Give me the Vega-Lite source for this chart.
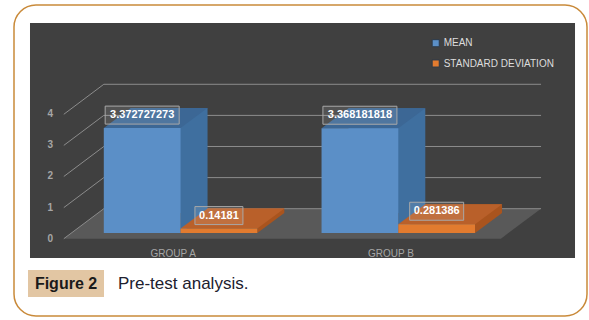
{
  "$schema": "https://vega.github.io/schema/vega-lite/v6.json",
  "autosize": "none",
  "padding": {"left": 14, "top": 5, "right": 2, "bottom": 4},
  "background": "#ffffff",
  "width": 573,
  "height": 311,
  "view": {"stroke": "#c98a3a", "strokeWidth": 1.5, "cornerRadius": 22, "fill": "#ffffff"},
  "config": {"font": "Liberation Sans"},
  "datasets": {
    "bars": [
      {"group": "GROUP A", "series": "MEAN", "value": 3.372727273, "label": "3.372727273"},
      {"group": "GROUP A", "series": "STANDARD DEVIATION", "value": 0.14181, "label": "0.14181"},
      {"group": "GROUP B", "series": "MEAN", "value": 3.368181818, "label": "3.368181818"},
      {"group": "GROUP B", "series": "STANDARD DEVIATION", "value": 0.281386, "label": "0.281386"}
    ],
    "levels": [{"level": 0}, {"level": 1}, {"level": 2}, {"level": 3}, {"level": 4}],
    "caption": [{"fig": "Figure 2", "text": "Pre-test analysis."}]
  },
  "data": {"name": "bars"},
  "resolve": {"scale": {"xOffset": "independent"}},
  "layer": [
    {
      "data": {"name": "caption"},
      "mark": {"type": "rect", "color": "#404040"},
      "encoding": {
        "x": {"datum": "GROUP A", "type": "nominal", "bandPosition": -0.4808, "axis": null},
        "x2": {"datum": "GROUP B", "bandPosition": 1.6512},
        "y": {"datum": -0.804, "type": "quantitative", "axis": null},
        "y2": {"datum": 6.752}
      }
    },
    {
      "data": {"name": "levels"},
      "transform": [{"filter": "datum.level == 0"}],
      "mark": {"type": "point", "shape": "M-116.65,5.7 L320.35,5.7 L360.35,-24.3 L-76.75,-24.3 Z", "size": 4, "filled": true, "fill": "#595959", "opacity": 1},
      "encoding": {
        "x": {"datum": "GROUP A", "type": "nominal", "axis": null},
        "y": {"field": "level", "type": "quantitative", "axis": null}
      }
    },
    {
      "data": {"name": "levels"},
      "mark": {"type": "rule", "color": "#8c8c8c", "strokeWidth": 1, "yOffset": -24.3, "x2Offset": 66},
      "encoding": {
        "x": {"datum": "GROUP A", "type": "nominal", "bandPosition": 0, "axis": null},
        "x2": {"datum": "GROUP B", "bandPosition": 1},
        "y": {"field": "level", "type": "quantitative", "axis": null}
      }
    },
    {
      "data": {"name": "levels"},
      "mark": {"type": "rule", "color": "#8c8c8c", "strokeWidth": 1, "xOffset": -40, "yOffset": 5.7, "y2Offset": -24.3},
      "encoding": {
        "x": {"datum": "GROUP A", "type": "nominal", "bandPosition": 0, "axis": null},
        "x2": {"datum": "GROUP A", "bandPosition": 0},
        "y": {"field": "level", "type": "quantitative", "axis": null},
        "y2": {"field": "level"}
      }
    },
    {
      "data": {"name": "levels"},
      "mark": {"type": "text", "align": "right", "baseline": "middle", "dy": 5.7, "fontSize": 10, "fontWeight": "bold", "color": "#a6a6a6"},
      "encoding": {
        "x": {"datum": "GROUP A", "type": "nominal", "bandPosition": -0.331, "axis": null},
        "y": {"field": "level", "type": "quantitative", "axis": null},
        "text": {"field": "level", "type": "quantitative"}
      }
    },
    {
      "transform": [{"filter": "datum.series == 'MEAN'"}],
      "mark": {"type": "text", "align": "center", "baseline": "alphabetic", "dx": -7.3, "fontSize": 10, "color": "#a6a6a6"},
      "encoding": {
        "x": {"field": "group", "type": "nominal", "axis": null},
        "y": {"datum": -0.7717, "type": "quantitative", "axis": null},
        "text": {"field": "group"}
      }
    },
    {
      "mark": {"type": "bar", "yOffset": -20, "y2Offset": -20},
      "encoding": {
        "x": {"field": "group", "type": "nominal", "axis": null},
        "xOffset": {"field": "series", "type": "nominal", "scale": {"type": "band", "domain": ["MEAN", "STANDARD DEVIATION"], "range": [27, 180.506], "paddingInner": 0, "paddingOuter": 0}},
        "y": {"field": "value", "type": "quantitative", "axis": null},
        "y2": {"datum": 0},
        "fill": {"condition": {"test": "datum.series == 'MEAN'", "value": "#3f6f9f"}, "value": "#a9541e"}
      }
    },
    {
      "mark": {"type": "point", "shape": "M38.375,0 L65.375,-20 L38.375,-20 Z", "size": 4, "filled": true, "opacity": 1},
      "encoding": {
        "x": {"field": "group", "type": "nominal", "axis": null},
        "xOffset": {"field": "series", "type": "nominal", "scale": {"type": "band", "domain": ["MEAN", "STANDARD DEVIATION"], "range": [0, 153.506], "paddingInner": 0, "paddingOuter": 0}},
        "y": {"datum": 0, "type": "quantitative", "axis": null},
        "fill": {"condition": {"test": "datum.series == 'MEAN'", "value": "#3f6f9f"}, "value": "#a9541e"}
      }
    },
    {
      "mark": {"type": "point", "shape": "M-38.375,0 L-11.375,-20 L65.375,-20 L38.375,0 Z", "size": 4, "filled": true, "opacity": 1},
      "encoding": {
        "x": {"field": "group", "type": "nominal", "axis": null},
        "xOffset": {"field": "series", "type": "nominal", "scale": {"type": "band", "domain": ["MEAN", "STANDARD DEVIATION"], "range": [0, 153.506], "paddingInner": 0, "paddingOuter": 0}},
        "y": {"field": "value", "type": "quantitative", "axis": null},
        "fill": {"condition": {"test": "datum.series == 'MEAN'", "value": "#3c6795"}, "value": "#b9602a"}
      }
    },
    {
      "mark": {"type": "bar"},
      "encoding": {
        "x": {
          "field": "group", "type": "nominal",
          "scale": {"paddingInner": 0.295, "paddingOuter": 0.4633, "align": 0.4451},
          "axis": null
        },
        "xOffset": {"field": "series", "type": "nominal", "scale": {"type": "band", "domain": ["MEAN", "STANDARD DEVIATION"], "range": [0, 153.506], "paddingInner": 0, "paddingOuter": 0}},
        "y": {
          "field": "value", "type": "quantitative",
          "scale": {"domain": [-2.669, 7.331], "nice": false, "zero": false},
          "axis": null
        },
        "y2": {"datum": 0},
        "color": {
          "field": "series", "type": "nominal",
          "scale": {"domain": ["MEAN", "STANDARD DEVIATION"], "range": ["#5b8fc7", "#e27b2f"]},
          "legend": {"title": null, "orient": "none", "legendX": 416.7, "legendY": 33.2, "padding": 0, "symbolType": "square", "symbolSize": 50, "symbolStrokeWidth": 1, "symbolStrokeColor": "#2e3a48", "labelColor": "#dddddd", "labelFontSize": 10, "rowPadding": 8.3, "labelOffset": 3}
        }
      }
    },
    {
      "mark": {"type": "point", "size": 4, "filled": true, "fill": "#ffffff", "fillOpacity": 0.1, "stroke": "#a8a8a8", "strokeWidth": 1, "opacity": 1},
      "encoding": {
        "x": {"field": "group", "type": "nominal", "axis": null},
        "xOffset": {"field": "series", "type": "nominal", "scale": {"type": "band", "domain": ["MEAN", "STANDARD DEVIATION"], "range": [0, 153.506], "paddingInner": 0, "paddingOuter": 0}},
        "y": {"field": "value", "type": "quantitative", "axis": null},
        "shape": {
          "field": "label", "type": "nominal", "legend": null,
          "scale": {
            "domain": ["3.372727273", "0.14181", "3.368181818", "0.281386"],
            "range": ["M-37,-22 L37,-22 L37,-4 L-37,-4 Z", "M-24,-22 L24,-22 L24,-4 L-24,-4 Z", "M-37,-22 L37,-22 L37,-4 L-37,-4 Z", "M-27,-22 L27,-22 L27,-4 L-27,-4 Z"]
          }
        }
      }
    },
    {
      "mark": {"type": "text", "dy": -13, "fontWeight": "bold", "fontSize": 11, "color": "#ffffff", "baseline": "middle", "align": "center"},
      "encoding": {
        "x": {"field": "group", "type": "nominal", "axis": null},
        "xOffset": {"field": "series", "type": "nominal", "scale": {"type": "band", "domain": ["MEAN", "STANDARD DEVIATION"], "range": [0, 153.506], "paddingInner": 0, "paddingOuter": 0}},
        "y": {"field": "value", "type": "quantitative", "axis": null},
        "text": {"field": "label"}
      }
    },
    {
      "data": {"name": "caption"},
      "mark": {"type": "rect", "color": "#e2c6a3"},
      "encoding": {
        "x": {"datum": "GROUP A", "type": "nominal", "bandPosition": -0.4938, "axis": null},
        "x2": {"datum": "GROUP A", "bandPosition": 0.0013},
        "y": {"datum": -1.1897, "type": "quantitative", "axis": null},
        "y2": {"datum": -2.0579}
      }
    },
    {
      "data": {"name": "caption"},
      "mark": {"type": "text", "fontSize": 16, "fontWeight": "bold", "color": "#1a1a1a", "align": "center", "baseline": "middle"},
      "encoding": {
        "x": {"datum": "GROUP A", "type": "nominal", "bandPosition": -0.2463, "axis": null},
        "y": {"datum": -1.624, "type": "quantitative", "axis": null},
        "text": {"field": "fig"}
      }
    },
    {
      "data": {"name": "caption"},
      "mark": {"type": "text", "fontSize": 17, "color": "#20202e", "align": "left", "baseline": "middle"},
      "encoding": {
        "x": {"datum": "GROUP A", "type": "nominal", "bandPosition": 0.0925, "axis": null},
        "y": {"datum": -1.624, "type": "quantitative", "axis": null},
        "text": {"field": "text"}
      }
    }
  ]
}
